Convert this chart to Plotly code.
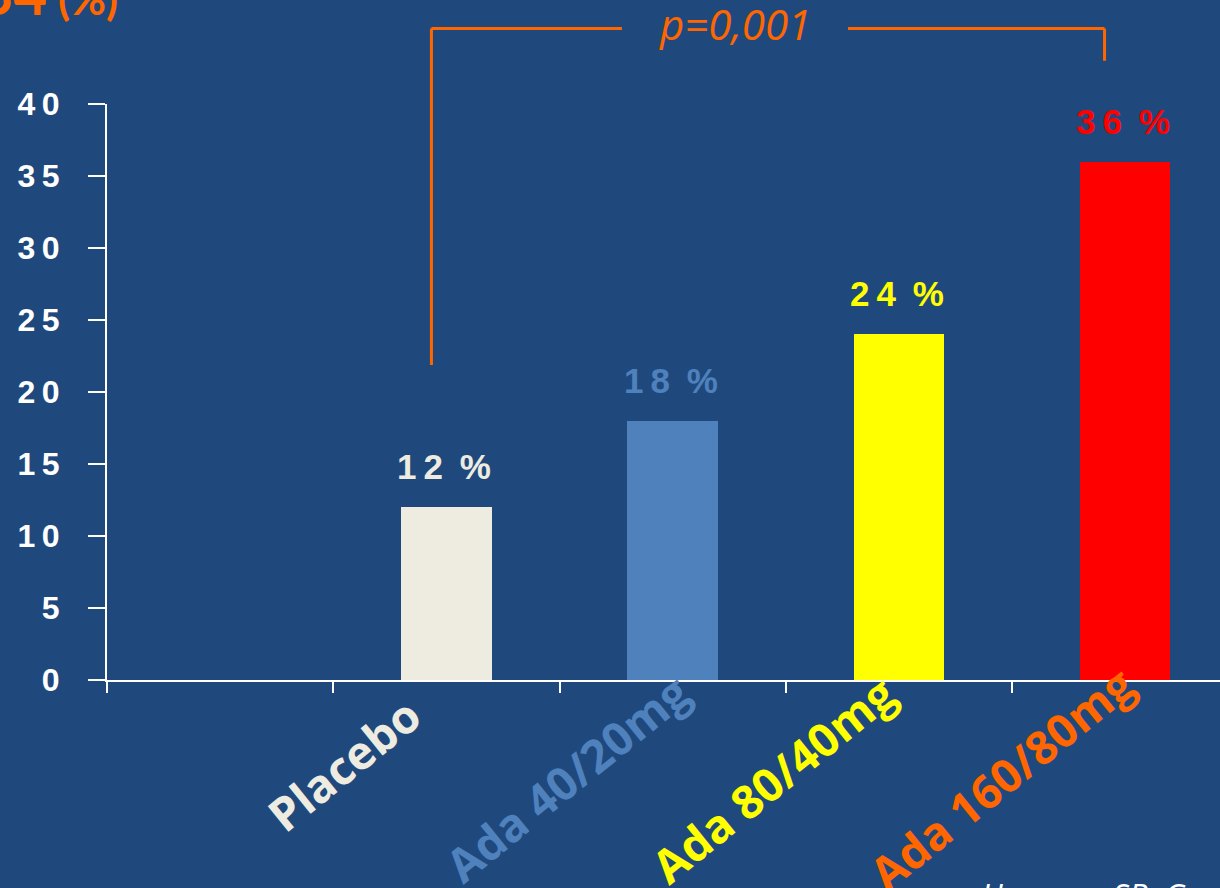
import plotly.graph_objects as go

# ---- data ----
categories = ["Placebo", "Ada 40/20mg", "Ada 80/40mg", "Ada 160/80mg"]
values = [12, 18, 24, 36]
bar_colors = ["#EEECE1", "#4F81BD", "#FFFF00", "#FF0000"]
value_label_colors = ["#EEECE1", "#4F81BD", "#FFFF00", "#FF0000"]
category_label_colors = ["#EEECE1", "#4F81BD", "#FFFF00", "#FF6600"]
y_tick_values = [0, 5, 10, 15, 20, 25, 30, 35, 40]
p_value_text = "p=0,001"
title_text = "<span style='font-size:58px'>34</span> (%)"
source_text = "Hanauer SB, Gastroenterology 2006"

# ---- layout helpers (positions / styling only) ----
BG = "#1F497D"
ORANGE = "#FF6600"
x_positions = [i + 1 for i in range(len(categories))]   # slot 0 left empty
label_xshift = [-103, -106, -126, -124]
label_ypaper = [-0.146, -0.170, -0.172, -0.170]


def spaced(s):
    return "\u2009".join(list(s))


fig = go.Figure()
fig.add_trace(go.Bar(
    x=x_positions, y=values, width=0.4,
    marker=dict(color=bar_colors, line=dict(width=0)),
    hoverinfo="skip",
))

annotations = []
# value labels above bars
for xp, v, c in zip(x_positions, values, value_label_colors):
    annotations.append(dict(
        x=xp, y=v, xref="x", yref="y", xanchor="center", yanchor="bottom",
        yshift=19, xshift=-2, showarrow=False,
        text=spaced(str(v)) + " \u2009%",
        font=dict(family="Liberation Sans, Arial", size=35, color=c, weight="bold"),
    ))
# rotated category labels
for xp, name, c, dx, yp in zip(x_positions, categories, category_label_colors,
                               label_xshift, label_ypaper):
    annotations.append(dict(
        x=xp, y=yp, xref="x", yref="paper", xanchor="center", yanchor="middle",
        xshift=dx, showarrow=False, textangle=-39, text="<b>" + name + "</b>",
        font=dict(family="Open Sans", size=46, color=c),
    ))
# p-value
annotations.append(dict(
    x=2.276, y=1.139, xref="x", yref="paper", xanchor="center", yanchor="middle",
    showarrow=False, text=p_value_text,
    font=dict(family="Open Sans", size=42, color=ORANGE, style="italic"),
))
# title (cropped at top)
annotations.append(dict(
    x=(120 - 107) / 1113, y=1.130, xref="paper", yref="paper",
    xanchor="right", yanchor="bottom", showarrow=False, text=title_text,
    font=dict(family="Lato", size=44, color=ORANGE, weight="bold"),
))
# source (cropped at bottom)
annotations.append(dict(
    x=(979 - 107) / 1113, y=-0.333, xref="paper", yref="paper",
    xanchor="left", yanchor="top", showarrow=False, text=source_text,
    font=dict(family="Open Sans", size=32, color="#FFFFFF", style="italic"),
))

# bracket
y_top = 1.131
line = dict(color=ORANGE, width=3)
shapes = [
    dict(type="line", xref="x", yref="paper", x0=0.934, x1=0.934, y0=0.547, y1=y_top, line=line),
    dict(type="line", xref="x", yref="paper", x0=0.934, x1=1.776, y0=y_top, y1=y_top, line=line),
    dict(type="line", xref="x", yref="paper", x0=2.775, x1=3.909, y0=y_top, y1=y_top, line=line),
    dict(type="line", xref="x", yref="paper", x0=3.909, x1=3.909, y0=y_top, y1=1.075, line=line),
]

fig.update_layout(
    width=1220, height=888,
    margin=dict(l=107, r=0, t=104, b=208, pad=0),
    paper_bgcolor=BG, plot_bgcolor=BG,
    showlegend=False,
    annotations=annotations,
    shapes=shapes,
    bargap=0,
)
fig.update_xaxes(
    range=[-0.5, -0.5 + 1113 / 226.25], fixedrange=True,
    showline=True, linecolor="#FFFFFF", linewidth=2,
    ticks="outside", ticklen=11, tickwidth=2, tickcolor="#FFFFFF",
    tickmode="array", tickvals=[-0.5, 0.5, 1.5, 2.5, 3.5],
    showticklabels=False, showgrid=False, zeroline=False,
)
fig.update_yaxes(
    range=[0, 40], fixedrange=True,
    showline=True, linecolor="#FFFFFF", linewidth=2,
    ticks="outside", ticklen=17, tickwidth=2, tickcolor="#FFFFFF",
    tickmode="array", tickvals=y_tick_values,
    ticktext=[spaced(str(v)) for v in y_tick_values],
    tickfont=dict(family="Liberation Sans, Arial", size=32, color="#FFFFFF", weight="bold"),
    ticklabelstandoff=22,
    showgrid=False, zeroline=False,
)

fig.write_html(
    "out.html",
    config={"displayModeBar": False},
    post_script="document.body.style.margin='0';document.body.style.overflow='hidden';",
)
